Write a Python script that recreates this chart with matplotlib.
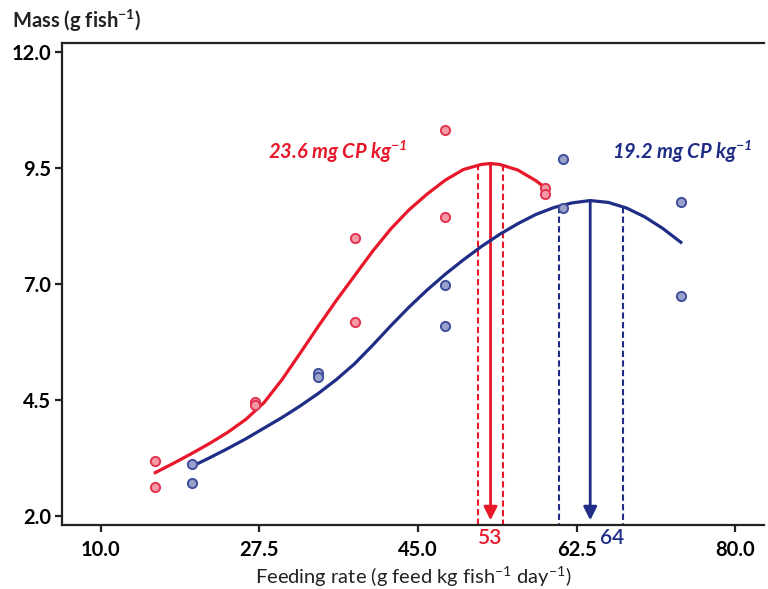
import matplotlib
matplotlib.use("Agg")
import matplotlib.pyplot as plt

plt.rcParams['font.family'] = ['Lato', 'DejaVu Sans']
plt.rcParams['mathtext.default'] = 'regular'

# observed fish mass (two tanks per feeding level)
red_x = [16, 16, 27, 27, 38, 38, 48, 48, 59, 59]
red_y = [3.19, 2.63, 4.46, 4.38, 8.00, 6.17, 10.32, 8.44, 9.08, 8.95]
blue_x = [20, 20, 34, 34, 48, 48, 61, 61, 74, 74]
blue_y = [3.12, 2.71, 5.09, 5.00, 6.97, 6.10, 9.69, 8.63, 8.76, 6.75]

# fitted curves
red_fit_x = [16, 18, 20, 22, 24, 26, 28, 30, 32, 34, 36, 38, 40, 42, 44, 46, 48, 50, 52, 53, 54, 56, 58, 59]
red_fit_y = [2.93, 3.13, 3.34, 3.56, 3.80, 4.08, 4.44, 4.94, 5.51, 6.09, 6.65, 7.18, 7.71, 8.19,
             8.60, 8.94, 9.24, 9.47, 9.58, 9.60, 9.58, 9.46, 9.23, 9.08]
blue_fit_x = [20, 22, 24, 26, 28, 30, 32, 34, 36, 38, 40, 42, 44, 46, 48, 50, 52, 54, 56, 58,
              60, 62, 64, 66, 68, 70, 72, 74]
blue_fit_y = [3.06, 3.25, 3.45, 3.66, 3.89, 4.12, 4.37, 4.64, 4.94, 5.28, 5.68, 6.10, 6.50, 6.87,
              7.21, 7.52, 7.81, 8.07, 8.30, 8.50, 8.65, 8.75, 8.80, 8.76, 8.64, 8.45, 8.20, 7.90]

# optimum feeding rate and its interval
red_opt, red_opt_y = 53, 9.60
red_ci = [51.6, 54.4]
red_ci_y = [9.58, 9.56]
blue_opt, blue_opt_y = 64, 8.80
blue_ci = [60.6, 67.6]
blue_ci_y = [8.66, 8.66]

red = '#E8182A'
blue = '#1F2D87'

fig = plt.figure(figsize=(7.68, 5.89), dpi=100)
ax = fig.add_axes([0.0807, 0.1087, 0.9143, 0.8183])

ax.plot(red_fit_x, red_fit_y, color=red, lw=2.3, zorder=3, solid_joinstyle='round')
ax.plot(blue_fit_x, blue_fit_y, color=blue, lw=2.3, zorder=3, solid_joinstyle='round')

ax.scatter(red_x, red_y, s=44, facecolor='#F49AA6', edgecolor='#E2344E', lw=1.4, zorder=4)
ax.scatter(blue_x, blue_y, s=44, facecolor='#9AA1CB', edgecolor='#404F9C', lw=1.4, zorder=4)

ymin = 1.8
for xv, yv in zip(red_ci, red_ci_y):
    ax.plot([xv, xv], [yv, ymin], color=red, lw=1.5, ls=(0, (3, 1.6)), zorder=2)
for xv, yv in zip(blue_ci, blue_ci_y):
    ax.plot([xv, xv], [yv, ymin], color=blue, lw=1.5, ls=(0, (3, 1.6)), zorder=2)

ax.annotate('', xy=(red_opt, 1.9), xytext=(red_opt, red_opt_y),
            arrowprops=dict(arrowstyle='-|>', color=red, lw=2, mutation_scale=20,
                            shrinkA=0, shrinkB=0), zorder=2)
ax.annotate('', xy=(blue_opt, 1.9), xytext=(blue_opt, blue_opt_y),
            arrowprops=dict(arrowstyle='-|>', color=blue, lw=2, mutation_scale=20,
                            shrinkA=0, shrinkB=0), zorder=2)

ax.set_xlim(5.7, 83.2)
ax.set_ylim(ymin, 12.2)
ax.set_xticks([10.0, 27.5, 45.0, 62.5, 80.0])
ax.set_yticks([2.0, 4.5, 7.0, 9.5, 12.0])
ax.set_xticklabels(['10.0', '27.5', '45.0', '62.5', '80.0'])
ax.set_yticklabels(['2.0', '4.5', '7.0', '9.5', '12.0'])
ax.tick_params(direction='out', length=5, width=1.6, labelsize=14.5, color='#222222')
for lab in ax.get_xticklabels() + ax.get_yticklabels():
    lab.set_fontweight('bold')
ax.tick_params(axis='x', pad=6)
ax.tick_params(axis='y', pad=3)

for side in ['left', 'bottom', 'top']:
    ax.spines[side].set_linewidth(1.6)
    ax.spines[side].set_color('#222222')
ax.spines['right'].set_visible(False)

ax.text(red_opt, 1.52, '53', color=red, fontsize=15, fontweight='semibold',
        ha='center', va='center')
ax.text(blue_opt + 2.4, 1.52, '64', color=blue, fontsize=15, fontweight='semibold',
        ha='center', va='center')

ax.text(36.1, 9.85, '23.6 mg CP kg$^{-1}$', color=red, fontsize=14.5,
        fontweight='bold', fontstyle='italic', ha='center', va='center')
ax.text(74.2, 9.85, '19.2 mg CP kg$^{-1}$', color=blue, fontsize=14.5,
        fontweight='bold', fontstyle='italic', ha='center', va='center')

ax.set_xlabel('Feeding rate (g feed kg fish$^{-1}$ day$^{-1}$)', fontsize=14.5,
              color='#222222', labelpad=3)
fig.text(0.015, 0.965, 'Mass (g fish$^{-1}$)', fontsize=14.5, fontweight='bold',
         color='#222222', ha='left', va='center')

fig.savefig('out.png', dpi=100)
